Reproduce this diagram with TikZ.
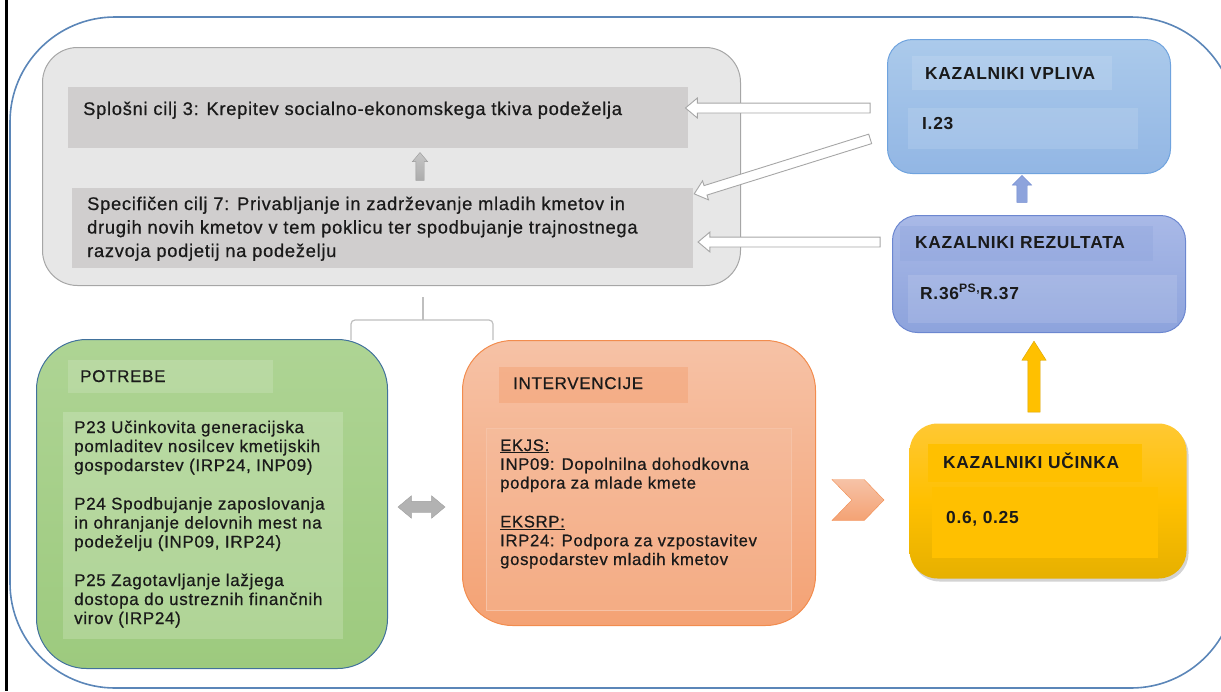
\documentclass[tikz,border=0pt]{standalone}
\usepackage{fontspec}
\setmainfont{Liberation Sans}[LetterSpace=4]
\newfontfamily\bodyfont{Liberation Sans}[LetterSpace=4, FakeBold=0.6]
\usetikzlibrary{shapes.arrows,shapes.symbols,shadows,calc}

\definecolor{grBox}{HTML}{E7E7E7}
\definecolor{grLine}{HTML}{A6A6A6}
\definecolor{grBand}{HTML}{D0CECE}
\definecolor{outLine}{HTML}{5B86B8}
\definecolor{txtCol}{HTML}{1A1A1A}
\definecolor{grnTop}{HTML}{AED494}
\definecolor{grnBot}{HTML}{9DCA7E}
\definecolor{grnLine}{HTML}{41719C}
\definecolor{orTop}{HTML}{F6C2A6}
\definecolor{orBot}{HTML}{F4A274}
\definecolor{orLine}{HTML}{F28C4E}
\definecolor{vpTop}{HTML}{ABCAEB}
\definecolor{vpBot}{HTML}{92B6E4}
\definecolor{vpLine}{HTML}{6FA3DE}
\definecolor{rzTop}{HTML}{A9B9E7}
\definecolor{rzBot}{HTML}{8DA3DC}
\definecolor{rzLine}{HTML}{6C87D0}
\definecolor{ylTop}{HTML}{FFC833}
\definecolor{ylMid}{HTML}{FFC000}
\definecolor{ylBot}{HTML}{E6B000}
\definecolor{ylLine}{HTML}{D9A300}

\newcommand\blkarr[4]{\path let \p1=($(#3)-(#2)$) in
  node[#1, rotate={atan2(\y1,\x1)}, minimum height={veclen(\x1,\y1)}] (#4) at ($(#2)!.5!(#3)$) {};}

\begin{document}
\begin{tikzpicture}[x=1pt, y=-1pt,
  box/.style={anchor=north west, inner sep=0pt, line width=1pt},
  band/.style={anchor=north west, inner sep=0pt},
  txt/.style={anchor=base west, inner sep=0pt, align=left, text=txtCol, font=\bodyfont\fontsize{17}{19}\selectfont},
  hdr/.style={txt, font=\fontsize{17.4}{19}\selectfont\bfseries},
  hol/.style={single arrow, draw=grLine, fill=white, line width=.9pt, inner sep=4.5pt,
    single arrow head extend=5pt, single arrow tip angle=80},
  garr/.style={single arrow, draw=gray!80, top color=gray!45, bottom color=gray!65, inner sep=4pt,
    single arrow head extend=3.5pt, single arrow tip angle=80},
  barr/.style={single arrow, draw=rzLine, fill=rzBot, inner sep=5pt,
    single arrow head extend=4.5pt, single arrow tip angle=90},
  yarr/.style={single arrow, draw=ylLine, fill=ylMid, inner sep=6pt,
    single arrow head extend=6pt, single arrow tip angle=65},
  darr/.style={double arrow, draw=gray!75, fill=gray!60, inner sep=5.5pt,
    double arrow head extend=5.5pt, double arrow tip angle=80},
  brk/.style={draw=gray!50, line width=1.2pt, rounded corners=4pt}]
\useasboundingbox (0,0) rectangle (1221,691);

\begin{scope}
\clip (0,0) rectangle (1221,691);
\draw[outLine, line width=1.6pt, rounded corners=105pt] (10,17) rectangle (1236,688);
\end{scope}
\draw[line width=3pt] (6.5,0) -- (6.5,691);

\node[box, draw=grLine, fill=grBox, rounded corners=35pt, minimum width=698pt, minimum height=238pt] (cilji) at (42,47) {};
\node[band, fill=grBand, minimum width=620pt, minimum height=61pt] (splosni) at (68,87) {};
\node[band, fill=grBand, minimum width=621pt, minimum height=80pt] (specif) at (72,188) {};
\node[txt, font=\bodyfont\fontsize{18.3}{23.5}\selectfont] (t1) at (83,115) {Splošni cilj 3: Krepitev socialno-ekonomskega tkiva podeželja};
\node[txt, font=\bodyfont\fontsize{18.3}{23.5}\selectfont] (t2) at (87,257) {Specifičen cilj 7: Privabljanje in zadrževanje mladih kmetov in\\drugih novih kmetov v tem poklicu ter spodbujanje trajnostnega\\razvoja podjetij na podeželju};

\node[box, draw=grnLine, top color=grnTop, bottom color=grnBot, rounded corners=50pt, minimum width=351pt, minimum height=329pt] (potrebe) at (36,339) {};
\node[band, fill=white, fill opacity=.15, minimum width=205pt, minimum height=33pt] (ptHead) at (68,360) {};
\node[band, fill=white, fill opacity=.18, minimum width=280pt, minimum height=227pt] (ptBody) at (63,412) {};
\node[txt] (ptT) at (80,382) {POTREBE};
\node[txt] (ptX) at (74,624) {P23 Učinkovita generacijska\\pomladitev nosilcev kmetijskih\\gospodarstev (IRP24, INP09)\\[19.5pt]P24 Spodbujanje zaposlovanja\\in ohranjanje delovnih mest na\\podeželju (INP09, IRP24)\\[19.5pt]P25 Zagotavljanje lažjega\\dostopa do ustreznih finančnih\\virov (IRP24)};

\node[box, draw=orLine, top color=orTop, bottom color=orBot, rounded corners=50pt, minimum width=353pt, minimum height=285pt] (interv) at (462,340) {};
\node[band, fill=orBot, fill opacity=.5, minimum width=189pt, minimum height=36pt] (ivHead) at (499,367) {};
\node[band, draw=orTop, fill=orTop, fill opacity=.3, minimum width=305pt, minimum height=182pt] (ivBody) at (486,428) {};
\node[txt] (ivT) at (513,389) {INTERVENCIJE};
\node[txt, font=\bodyfont\fontsize{16.7}{18.8}\selectfont] (ivX) at (500,565) {\underline{EKJS:}\\INP09: Dopolnilna dohodkovna\\podpora za mlade kmete\\[20pt]\underline{EKSRP:}\\IRP24: Podpora za vzpostavitev\\gospodarstev mladih kmetov};

\node[box, draw=vpLine, top color=vpTop, bottom color=vpBot, rounded corners=25pt, minimum width=283pt, minimum height=134pt] (vpliva) at (887,39) {};
\node[band, fill=white, fill opacity=.12, minimum width=200pt, minimum height=34pt] (vpHead) at (912,56) {};
\node[band, fill=white, fill opacity=.12, minimum width=230pt, minimum height=41pt] (vpBody) at (908,108) {};
\node[hdr] (vpT) at (925,79) {KAZALNIKI VPLIVA};
\node[hdr] (vpX) at (922,129) {I.23};

\node[box, draw=rzLine, top color=rzTop, bottom color=rzBot, rounded corners=25pt, minimum width=293pt, minimum height=117pt] (rezultata) at (892,215) {};
\node[band, fill=rzBot, fill opacity=.35, minimum width=253pt, minimum height=35pt] (rzHead) at (900,226) {};
\node[band, fill=white, fill opacity=.12, minimum width=269pt, minimum height=48pt] (rzBody) at (908,275) {};
\node[hdr] (rzT) at (915,248) {KAZALNIKI REZULTATA};
\node[hdr] (rzX) at (920,299) {R.36\textsuperscript{PS,}R.37};

\node[box, top color=ylTop, bottom color=ylBot, middle color=ylMid, rounded corners=28pt, minimum width=277pt, minimum height=155pt,
  drop shadow={shadow xshift=2pt, shadow yshift=-3pt, opacity=.35}] (ucinka) at (909,423) {};
\node[band, fill=ylMid, minimum width=214pt, minimum height=38pt] (ucHead) at (928,444) {};
\node[band, fill=ylMid, minimum width=226pt, minimum height=71pt] (ucBody) at (932,487) {};
\node[hdr] (ucT) at (943,468) {KAZALNIKI UČINKA};
\node[hdr] (ucX) at (946,523) {0.6, 0.25};

\coordinate (h1a) at (873,108);
\coordinate (h1b) at (splosni.east |- h1a);
\coordinate (h2a) at (873,138);
\coordinate (h2b) at (697,193);
\coordinate (h3a) at (883,242);
\coordinate (h3b) at (701,242);
\blkarr{hol}{h1a}{h1b}{ha1}
\blkarr{hol}{h2a}{h2b}{ha2}
\blkarr{hol}{h3a}{h3b}{ha3}

\coordinate (g1) at (420,183);
\coordinate (g2) at (420,155);
\blkarr{garr}{g1}{g2}{gup}
\coordinate (b1) at (1022,205);
\coordinate (b2) at (1022,178);
\blkarr{barr}{b1}{b2}{bup}
\coordinate (y1) at (1034,417);
\coordinate (y2) at (1034,346);
\blkarr{yarr}{y1}{y2}{yup}
\coordinate (d1) at (398,507);
\coordinate (d2) at (445,507);
\blkarr{darr}{d1}{d2}{dlr}

\node[signal, signal from=west, signal to=east, signal pointer angle=92, draw=orLine, top color=orTop, bottom color=orBot,
  minimum width=52pt, minimum height=41pt, inner sep=0pt] (chev) at (858,500) {};

\coordinate (brk) at (423,320);
\draw[brk] (351,340) |- (brk);
\draw[brk] (493,340) |- (brk);
\draw[brk] (brk) -- (423,297);
\end{tikzpicture}
\end{document}
